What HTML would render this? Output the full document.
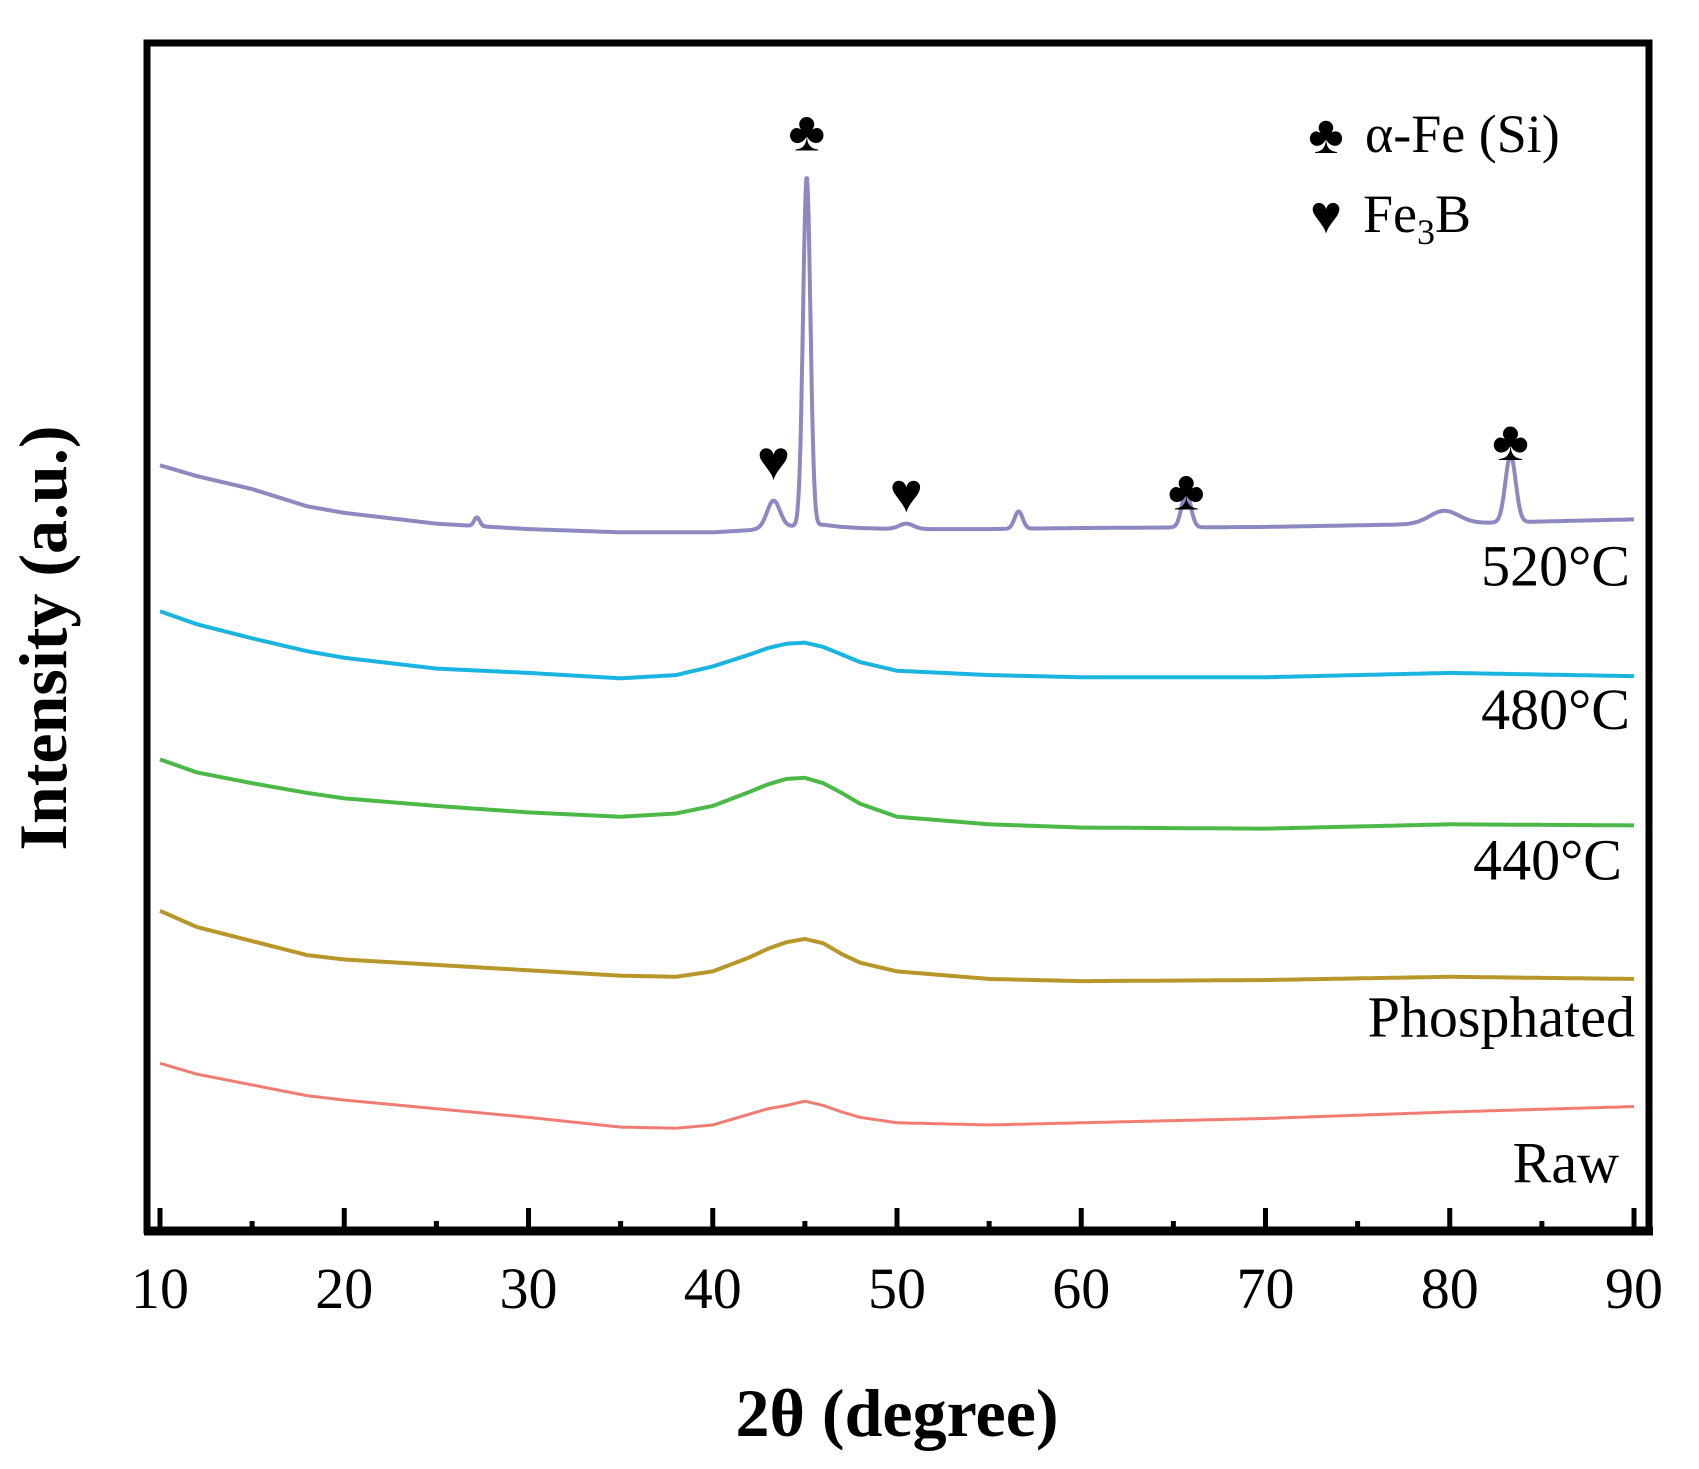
<!DOCTYPE html>
<html><head><meta charset="utf-8"><style>
html,body{margin:0;padding:0;background:#fff}
svg{display:block}
text{font-family:"Liberation Serif","DejaVu Serif",serif;fill:#000}
</style></head><body>
<svg id="chart" width="1699" height="1469" viewBox="0 0 1699 1469" xmlns="http://www.w3.org/2000/svg">
<g id="series"></g>
<g id="axes"></g>
<rect x="147" y="43" width="1502" height="1187" fill="none" stroke="#000" stroke-width="7"/>
<line x1="144" y1="1231" x2="1653" y2="1231" stroke="#000" stroke-width="9"/>
<text x="897" y="1436" font-size="68" font-weight="bold" text-anchor="middle">2θ (degree)</text>
<text transform="translate(66,638) rotate(-90)" font-size="68" font-weight="bold" text-anchor="middle">Intensity (a.u.)</text>
<g>
<text x="1326" y="153" font-size="54" text-anchor="middle" font-family="DejaVu Sans">♣</text>
<text x="1365" y="152" font-size="54">α-Fe (Si)</text>
<text x="1326" y="233" font-size="54" text-anchor="middle" font-family="DejaVu Sans">♥</text>
<text x="1363" y="232" font-size="54">Fe<tspan font-size="36" dy="12">3</tspan><tspan dy="-12">B</tspan></text>
</g>
<g id="markers"></g>
<g id="labels"></g>
</svg>
<script>
const xs = [10,12,15,18,20,25,30,35,38,40,42,43,44,45,46,47,48,50,55,60,70,80,90];
const seriesNames = ["Raw","Phosphated","440°C","480°C","520°C"];
const rawVals = [156,146,136,126,122,114,106,97,96,99,109,114,117,121,117,111,106,101,99,101,105,111,116];
const phosVals = [297,282,269,256,252,247,242,237,236,241,254,262,268,271,267,257,249,241,234,232,233,236,234];
const t440Vals = [437,425,415,406,401,394,388,384,387,394,407,414,419,420,415,406,396,384,377,374,373,377,376];
const t480Vals = [574,562,549,537,531,521,517,512,515,523,534,540,544,545,541,534,527,519,515,513,513,517,514];
const t520Vals = [709,699,687,671,665,655,650,647,647,647,649,651,652,654,654,652,651,650,650,651,652,655,659];
const peak520Pos = [27.2,43.3,45.1,50.5,56.6,65.7,79.7,83.3];
const peak520Height = [8,25,322,5,16,32,12,62];
const peak520Width = [0.15,0.35,0.2,0.4,0.22,0.25,0.8,0.28];
const xTicks = [10,20,30,40,50,60,70,80,90];
const markerX = [45.1,43.3,50.5,65.7,83.3];
const markerI = [1000,696,666,668,714];
const markerSym = ["♣","♥","♥","♣","♣"];
const labelI = [46,181,326,465,598];

const NS="http://www.w3.org/2000/svg";
const xS = v => 160 + (v-10)*(1634-160)/80;
const yS = v => 1232 - v*1.0814;
const colors = ["#f07c72","#b8962a","#4cb848","#1ab4e0","#8c88c0"];
const allVals = [rawVals,phosVals,t440Vals,t480Vals,t520Vals];
function interp(vals,x){
  for(let i=0;i<xs.length-1;i++){
    if(x>=xs[i]&&x<=xs[i+1]){const t=(x-xs[i])/(xs[i+1]-xs[i]);return vals[i]+(vals[i+1]-vals[i])*t;}
  }
  return vals[vals.length-1];
}
const sg=document.getElementById('series');
allVals.forEach((vals,si)=>{
  let d="";
  for(let x=10;x<=90.0001;x+=0.04){
    let v=interp(vals,x);
    if(si===4){peak520Pos.forEach((p,k)=>{v+=peak520Height[k]*Math.exp(-0.5*Math.pow((x-p)/peak520Width[k],2));});}
    d+=(d?"L":"M")+xS(x).toFixed(1)+","+yS(v).toFixed(1);
  }
  const path=document.createElementNS(NS,'path');
  path.setAttribute('d',d);path.setAttribute('fill','none');
  path.setAttribute('stroke',colors[si]);path.setAttribute('stroke-width',si===0?'3':'4');
  path.setAttribute('stroke-linejoin','round');
  
  
  sg.appendChild(path);
});
const ag=document.getElementById('axes');
for(let v=10;v<=90;v+=5){
  const major=v%10===0;
  const l=document.createElementNS(NS,'line');
  l.setAttribute('x1',xS(v));l.setAttribute('x2',xS(v));
  l.setAttribute('y1',1231);l.setAttribute('y2',major?1208:1221);
  l.setAttribute('stroke','#000');l.setAttribute('stroke-width',5);
  
  
  ag.appendChild(l);
}
xTicks.forEach(v=>{
  const t=document.createElementNS(NS,'text');
  t.setAttribute('x',xS(v));t.setAttribute('y',1308);t.setAttribute('font-size','58');
  t.setAttribute('text-anchor','middle');t.textContent=v;
  
  
  ag.appendChild(t);
});
const mg=document.getElementById('markers');
markerX.forEach((x,i)=>{
  const t=document.createElementNS(NS,'text');
  t.setAttribute('x',xS(x));t.setAttribute('y',yS(markerI[i]));
  t.setAttribute('font-size','56');t.setAttribute('text-anchor','middle');
  t.setAttribute('font-family','DejaVu Sans');t.textContent=markerSym[i];
  
  
  mg.appendChild(t);
});
const lg=document.getElementById('labels');
const labelRight=[1619,1635,1622,1630,1630];
seriesNames.forEach((n,i)=>{
  const t=document.createElementNS(NS,'text');
  t.setAttribute('x',labelRight[i]);t.setAttribute('y',yS(labelI[i]));
  t.setAttribute('font-size','58');t.setAttribute('text-anchor','end');
  t.textContent=n;
  
  
  lg.appendChild(t);
});
</script>
</body></html>
